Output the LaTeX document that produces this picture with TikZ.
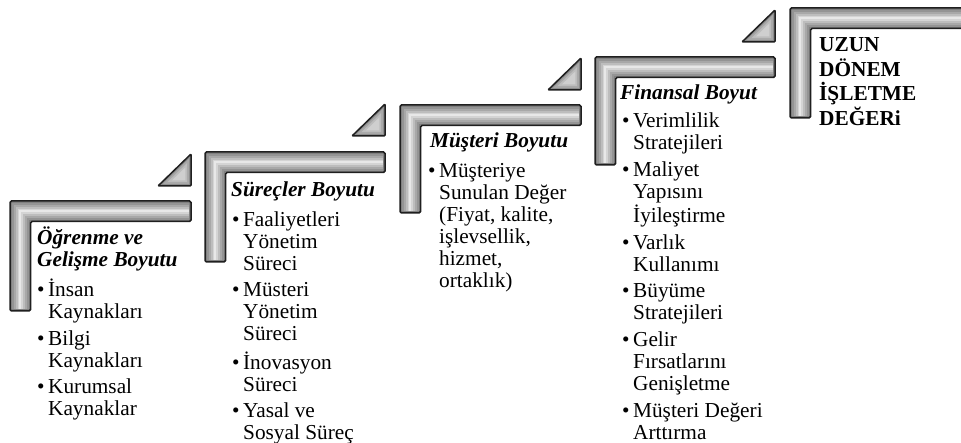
\documentclass[tikz,border=0pt]{standalone}
\usepackage{fontspec}
\setmainfont{Liberation Serif}
\tikzset{
  barline/.style={draw=black!88, line width=1.5pt, rounded corners=1.5pt},
  txt/.style={inner sep=0pt, anchor=base west, font=\fontsize{21.3}{22}\selectfont},
  ttl/.style={txt, font=\fontsize{21.3}{22}\selectfont\bfseries\itshape},
}
\newcommand\stairbar[4]{%
  \pgfmathsetmacro\ia{#1+20.5}\pgfmathsetmacro\ib{#2+20.5}%
  \pgfmathsetmacro\ca{#1+10.25}\pgfmathsetmacro\cb{#2+10.25}%
  \pgfmathsetmacro\ea{#3-2}\pgfmathsetmacro\eb{#4-2}%
  \begin{scope}
    \clip (#1,#2) -- (#3,#2) -- (#3,\ib) -- (\ia,\ib) -- (\ia,#4) -- (#1,#4) -- cycle;
    \fill[black!50] (#1,#2) rectangle (#3,#4);
    \foreach \w/\c in {17/42,13/34,9/26,5/17,2/9}
      \draw[line width=\w pt, draw=black!\c, miter limit=10] (\ea,\cb) -- (\ca,\cb) -- (\ca,\eb);
  \end{scope}
  \draw[barline] (#1,#2) -- (#3,#2) -- (#3,\ib) -- (\ia,\ib) -- (\ia,#4) -- (#1,#4) -- cycle;
}
\newcommand\stairtri[2]{%
  \pgfmathsetmacro\ta{#1-9.5}\pgfmathsetmacro\tb{#2-9.5}%
  \begin{scope}[shift={(\ta,\tb)}]
    \foreach \f/\c in {1/46,0.8/34,0.6/26,0.4/19}
      \fill[black!\c] (-23.5*\f,9.5*\f) -- (9.5*\f,-22.5*\f) -- (9.5*\f,9.5*\f) -- cycle;
    \draw[barline, rounded corners=1pt] (-23.5,9.5) -- (9.5,-22.5) -- (9.5,9.5) -- cycle;
  \end{scope}
}
\newcommand\bl{\textbullet}
\begin{document}
\begin{tikzpicture}[x=1pt,y=-1pt]
\useasboundingbox (0,0) rectangle (961,443);
% bars
\stairbar{10}{201}{191}{311}
\stairtri{191}{186}
\stairbar{205}{152}{385}{262}
\stairtri{385}{136}
\stairbar{400}{105}{581}{213}
\stairtri{581}{90}
\stairbar{595}{57}{775}{165}
\stairtri{775}{42}
\stairbar{790}{8}{966}{118}
% stage 1
\node[ttl] (t1) at (37,245) {\begin{tabular}[t]{@{}l@{}}Öğrenme ve\\Gelişme Boyutu\end{tabular}};
\node[txt] (l1) at (37,297) {\begin{tabular}[t]{@{}l@{\hspace{3.5pt}}l@{}}
\bl & İnsan\\ & Kaynakları\\[4.5pt]
\bl & Bilgi\\ & Kaynakları\\[4.5pt]
\bl & Kurumsal\\ & Kaynaklar
\end{tabular}};
% stage 2
\node[ttl] (t2) at (231,197) {Süreçler Boyutu};
\node[txt] (l2) at (232,227) {\begin{tabular}[t]{@{}l@{\hspace{3.5pt}}l@{}}
\bl & Faaliyetleri\\ & Yönetim\\ & Süreci\\[4pt]
\bl & Müsteri\\ & Yönetim\\ & Süreci\\[4pt]
\bl & İnovasyon\\ & Süreci\\[4pt]
\bl & Yasal ve\\ & Sosyal Süreç
\end{tabular}};
% stage 3
\node[ttl] (t3) at (430,148) {Müşteri Boyutu};
\node[txt] (l3) at (428,178) {\begin{tabular}[t]{@{}l@{\hspace{3.5pt}}l@{}}
\bl & Müşteriye\\ & Sunulan Değer\\ & (Fiyat, kalite,\\ & işlevsellik,\\ & hizmet,\\ & ortaklık)
\end{tabular}};
% stage 4
\node[ttl] (t4) at (620,100) {Finansal Boyut};
\node[txt] (l4) at (622,128) {\begin{tabular}[t]{@{}l@{\hspace{3.5pt}}l@{}}
\bl & Verimlilik\\ & Stratejileri\\[4.6pt]
\bl & Maliyet\\ & Yapısını\\ & İyileştirme\\[4.6pt]
\bl & Varlık\\ & Kullanımı\\[4.6pt]
\bl & Büyüme\\ & Stratejileri\\[4.6pt]
\bl & Gelir\\ & Fırsatlarını\\ & Genişletme\\[4.6pt]
\bl & Müşteri Değeri\\ & Arttırma
\end{tabular}};
% stage 5
\node[txt, font=\fontsize{21.3}{21.7}\selectfont\bfseries] (t5) at (819,52) {\begin{tabular}[t]{@{}l@{}}UZUN\\DÖNEM\\İŞLETME\\DEĞERi\end{tabular}};
\end{tikzpicture}
\end{document}
